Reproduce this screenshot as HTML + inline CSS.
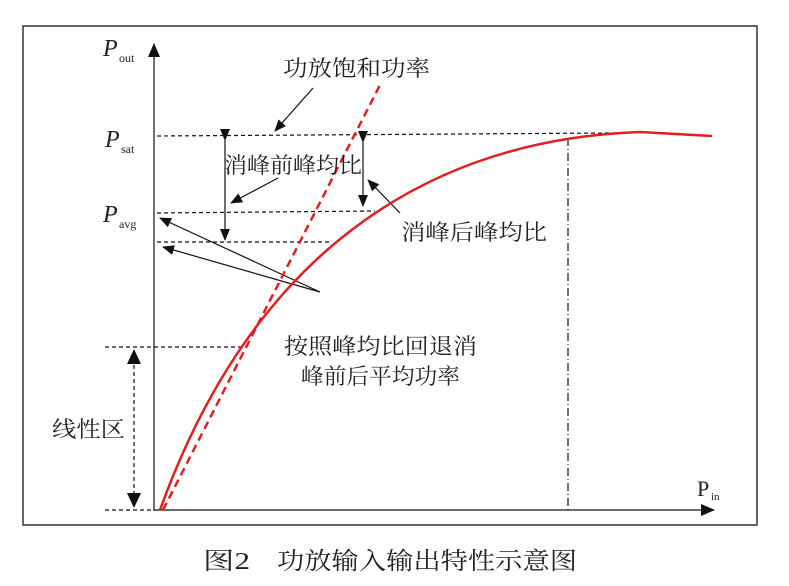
<!DOCTYPE html><html><head><meta charset="utf-8"><style>body{margin:0;background:#fff}svg{display:block}text{font-family:"Liberation Serif","Noto Serif CJK SC",serif;fill:#222}</style></head><body>
<svg width="789" height="586" viewBox="0 0 789 586">
<defs><marker id="a" markerWidth="12" markerHeight="10" refX="11" refY="5" orient="auto" markerUnits="userSpaceOnUse"><path d="M0,0L12,5L0,10z" fill="#111"/></marker>
<marker id="b" markerWidth="14" markerHeight="12" refX="13" refY="6" orient="auto" markerUnits="userSpaceOnUse"><path d="M0,0L14,6L0,12z" fill="#111"/></marker></defs>
<rect x="23" y="26" width="734" height="499" fill="none" stroke="#333" stroke-width="1.5"/>
<g stroke="#111" stroke-width="1.2" fill="none">
<line x1="154" y1="511" x2="154" y2="44" marker-end="url(#b)"/>
<line x1="154" y1="510" x2="714" y2="510" marker-end="url(#b)"/>
<g stroke-dasharray="4,3">
<line x1="157" y1="136" x2="610" y2="133"/>
<line x1="157" y1="213" x2="375" y2="211"/>
<line x1="157" y1="242" x2="332" y2="242"/>
<line x1="105" y1="347" x2="243" y2="347"/>
<line x1="105" y1="510" x2="154" y2="510"/>
<line x1="134" y1="358" x2="134" y2="500"/>
</g>
<line x1="568" y1="138" x2="568" y2="510" stroke-dasharray="8,3,1,3"/>
<path d="M134,349l-7,15h14zM134,508l-7,-15h14z" fill="#111" stroke="none"/>
<line x1="225" y1="140" x2="225" y2="240" marker-end="url(#a)" marker-start="url(#a)"/>
<line x1="363" y1="142" x2="363" y2="206" marker-end="url(#a)" marker-start="url(#a)"/>
<line x1="313" y1="88" x2="275" y2="131" marker-end="url(#a)"/>
<line x1="278" y1="178" x2="231" y2="203" marker-end="url(#a)"/>
<line x1="400" y1="213" x2="368" y2="180" marker-end="url(#a)"/>
<line x1="320" y1="292" x2="160" y2="218" marker-end="url(#a)"/>
<line x1="320" y1="292" x2="163" y2="247" marker-end="url(#a)"/>
</g>
<path d="M160,510 C250,260 420,140 640,132 L712,136" fill="none" stroke="#e02020" stroke-width="2.5"/>
<line x1="163" y1="510" x2="380" y2="85" stroke="#e02020" stroke-width="2.5" stroke-dasharray="8,5"/>
<text x="103" y="56" font-size="24" font-style="italic">P</text><text x="119" y="62" font-size="12">out</text>
<text x="105" y="147" font-size="24" font-style="italic">P</text><text x="121" y="153" font-size="12">sat</text>
<text x="103" y="222" font-size="24" font-style="italic">P</text><text x="119" y="228" font-size="12">avg</text>
<text x="697" y="496" font-size="22">P</text><text x="711" y="500" font-size="11">in</text>
<g font-size="22" style="font-family:'Noto Sans CJK SC',sans-serif">
<text x="283" y="76" textLength="147" lengthAdjust="spacingAndGlyphs">功放饱和功率</text>
<text x="224" y="173" textLength="138" lengthAdjust="spacingAndGlyphs">消峰前峰均比</text>
<text x="401" y="240" textLength="146" lengthAdjust="spacingAndGlyphs">消峰后峰均比</text>
<text x="284" y="354" textLength="193" lengthAdjust="spacingAndGlyphs">按照峰均比回退消</text>
<text x="301" y="384" textLength="159" lengthAdjust="spacingAndGlyphs">峰前后平均功率</text>
<text x="52" y="437" textLength="73" lengthAdjust="spacingAndGlyphs">线性区</text>
<text x="203" y="569" font-size="24" textLength="47" lengthAdjust="spacingAndGlyphs">图2</text>
<text x="277" y="569" font-size="24" textLength="300" lengthAdjust="spacingAndGlyphs">功放输入输出特性示意图</text>
</g>
</svg></body></html>
